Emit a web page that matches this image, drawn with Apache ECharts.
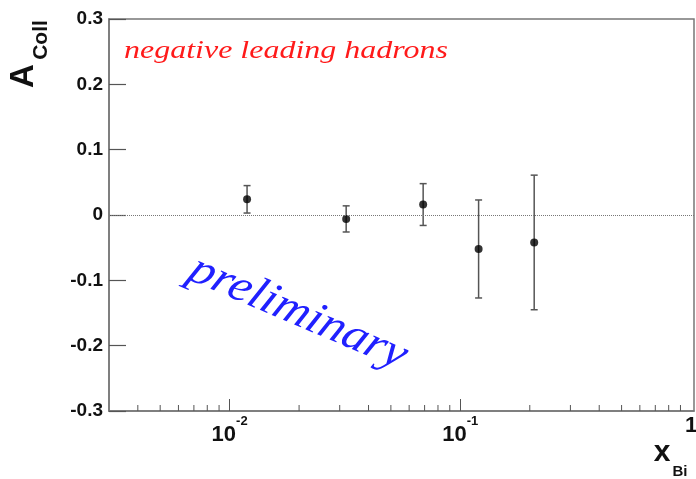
<!DOCTYPE html>
<html>
<head>
<meta charset="utf-8">
<script src="https://cdn.jsdelivr.net/npm/echarts@6/dist/echarts.min.js"></script>
<style>
  html, body { margin: 0; padding: 0; background: #fff; }
  #chart { width: 696px; height: 479px; }
</style>
</head>
<body>
<div id="chart"></div>
<script>
// data
const xValues = [0.0119, 0.032, 0.069, 0.12, 0.209]
const yValues = [0.024, -0.006, 0.016, -0.052, -0.042]
const yErrors = [0.021, 0.020, 0.032, 0.075, 0.103]

// axis ticks (log x axis)
const xLabelValues = [0.01, 0.1, 1]
const majorTicks = [0.01, 0.1]
const minorTicks = [
  0.004, 0.005, 0.006, 0.007, 0.008, 0.009,
  0.02, 0.03, 0.04, 0.05, 0.06, 0.07, 0.08, 0.09,
  0.2, 0.3, 0.4, 0.5, 0.6, 0.7, 0.8, 0.9
]

const chart = echarts.init(document.getElementById('chart'))
const frameColor = '#777'
const tickColor = '#555'
const sans = '"Liberation Sans", Arial, sans-serif'
const serif = '"Liberation Serif", "Times New Roman", serif'

const xLabel = (v) => {
  const p = Math.log10(v)
  if (Math.abs(p - Math.round(p)) > 1e-6) return ''
  if (Math.round(p) === 0) return '{one|1}'
  return '{b|10}{s|' + Math.round(p) + '}'
}

const option = {
  animation: false,
  backgroundColor: '#fff',
  grid: {
    left: 109, right: 2, top: 19, bottom: 68,
    show: true, borderColor: frameColor, borderWidth: 1.5,
    containLabel: false, outerBoundsMode: 'none'
  },
  xAxis: {
    type: 'log', logBase: 10, min: 0.003, max: 1.03,
    axisLine: { onZero: false, lineStyle: { color: frameColor, width: 1.5 } },
    axisTick: { inside: true, length: 12, customValues: majorTicks, lineStyle: { color: tickColor, width: 1 } },
    minorTick: { show: false },
    splitLine: { show: false },
    axisLabel: {
      customValues: xLabelValues,
      margin: 4,
      formatter: xLabel,
      rich: {
        b: { fontFamily: sans, fontWeight: 'bold', fontSize: 22, color: '#111', padding: [9, 0, 0, 0], verticalAlign: 'bottom' },
        s: { fontFamily: sans, fontWeight: 'bold', fontSize: 13, color: '#111', verticalAlign: 'top' },
        one: { fontFamily: sans, fontWeight: 'bold', fontSize: 22, color: '#111', verticalAlign: 'top' }
      }
    }
  },
  yAxis: {
    type: 'value', min: -0.3, max: 0.3, interval: 0.1,
    axisLine: { show: true, onZero: false, lineStyle: { color: frameColor, width: 1.5 } },
    axisTick: { show: true, inside: true, length: 17, lineStyle: { color: tickColor, width: 1.2 } },
    splitLine: { show: false },
    axisLabel: {
      margin: 6,
      fontFamily: sans, fontWeight: 'bold', fontSize: 19, color: '#111',
      formatter: (v) => String(Number(v.toFixed(1)))
    }
  },
  series: [
    {
      // minor ticks of the log axis
      type: 'custom',
      silent: true,
      data: minorTicks.map(v => [v, -0.3]),
      encode: { x: 0, y: 1 },
      renderItem: (params, api) => {
        const p = api.coord([api.value(0), api.value(1)])
        return {
          type: 'line',
          shape: { x1: p[0], y1: p[1], x2: p[0], y2: p[1] - 6 },
          style: { stroke: tickColor, lineWidth: 1 }
        }
      }
    },
    {
      // error bars
      type: 'custom',
      silent: true,
      data: xValues.map((x, i) => [x, yValues[i] - yErrors[i], yValues[i] + yErrors[i]]),
      encode: { x: 0, y: [1, 2] },
      renderItem: (params, api) => {
        const lo = api.coord([api.value(0), api.value(1)])
        const hi = api.coord([api.value(0), api.value(2)])
        const st = { stroke: '#555', lineWidth: 1.5 }
        const cap = 3.5
        return {
          type: 'group',
          children: [
            { type: 'line', shape: { x1: lo[0], y1: lo[1], x2: hi[0], y2: hi[1] }, style: st },
            { type: 'line', shape: { x1: hi[0] - cap, y1: hi[1], x2: hi[0] + cap, y2: hi[1] }, style: st },
            { type: 'line', shape: { x1: lo[0] - cap, y1: lo[1], x2: lo[0] + cap, y2: lo[1] }, style: st }
          ]
        }
      },
      z: 2
    },
    {
      type: 'scatter',
      data: xValues.map((x, i) => [x, yValues[i]]),
      symbol: 'circle',
      symbolSize: 8,
      itemStyle: { color: '#000' },
      z: 3,
      markLine: {
        silent: true,
        symbol: ['none', 'none'],
        label: { show: false },
        lineStyle: { type: 'dotted', color: '#777', width: 1 },
        data: [{ yAxis: 0 }]
      }
    }
  ],
  graphic: [
    {
      type: 'text', x: 124, y: 51, scaleX: 1.23,
      style: { text: 'negative leading hadrons', font: 'italic 26px ' + serif, fill: '#ff1a1a', textVerticalAlign: 'middle' }
    },
    {
      type: 'group', x: 298, y: 313, scaleX: 1.12,
      children: [{
        type: 'text', rotation: -25.5 * Math.PI / 180,
        style: { text: 'preliminary', font: 'italic 45px ' + serif, fill: '#2020ff', textAlign: 'center', textVerticalAlign: 'middle' }
      }]
    },
    {
      type: 'text', x: 24, y: 76, rotation: Math.PI / 2,
      style: { text: 'A', font: 'bold 33px ' + sans, fill: '#111', textAlign: 'center', textVerticalAlign: 'middle' }
    },
    {
      type: 'text', x: 41, y: 40, rotation: Math.PI / 2,
      style: { text: 'Coll', font: 'bold 21px ' + sans, fill: '#111', textAlign: 'center', textVerticalAlign: 'middle' }
    },
    {
      type: 'text', x: 662, y: 453,
      style: { text: 'x', font: 'bold 30px ' + sans, fill: '#111', textAlign: 'center', textVerticalAlign: 'middle' }
    },
    {
      type: 'text', x: 680, y: 472,
      style: { text: 'Bi', font: 'bold 15px ' + sans, fill: '#111', textAlign: 'center', textVerticalAlign: 'middle' }
    }
  ]
}

chart.setOption(option)
window.addEventListener('resize', () => chart.resize())
</script>
</body>
</html>
